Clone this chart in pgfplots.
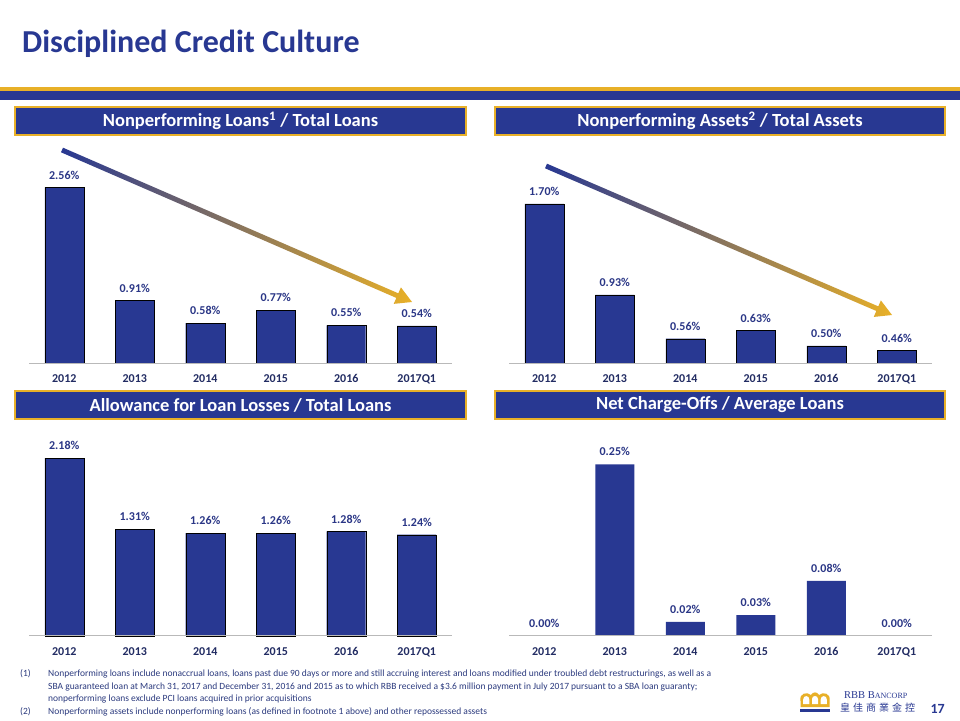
\documentclass[border=0pt]{standalone}
\usepackage{fontspec}
\setmainfont{Carlito}
\newfontfamily\cjk{Noto Sans CJK TC}
\newfontfamily\serif{Liberation Serif}
\usepackage{pgfplots}
\pgfplotsset{compat=1.18}
\usetikzlibrary{calc}
\definecolor{navy}{HTML}{283892}
\definecolor{gold}{HTML}{E8B028}
\definecolor{lbl}{HTML}{2A3686}
\definecolor{tickc}{HTML}{222C63}
\definecolor{foot}{HTML}{2B3A7E}

\pgfplotsset{bk/.style={
  ybar, bar width=39pt, bar shift=0pt, scale only axis, width=423pt,
  xmin=-0.5, xmax=5.5,
  axis x line*=bottom, axis y line=none, axis on top,
  x axis line style={draw=gray!55, line width=0.9pt, -},
  xtick={0,...,5}, xticklabels={2012,2013,2014,2015,2016,2017Q1},
  major tick length=0pt,
  xticklabel style={font=\bfseries\fontsize{12}{14}\selectfont, text=tickc, text height=8.5pt, text depth=0pt, yshift=-7.5pt},
  nodes near coords={\pgfmathprintnumber[fixed,fixed zerofill,precision=2,assume math mode=true]{\pgfplotspointmeta}\%},
  nodes near coords style={font=\bfseries\fontsize{12}{14}\selectfont, text=lbl, anchor=south, inner sep=0pt, yshift=8pt},
  anchor=south west,
  cycle list={{fill=navy, draw=none}},
}}

\newcommand\gradarrow[2]{%
 \coordinate (A) at #1; \coordinate (T) at #2;
 \coordinate (B) at ($(T)!16pt!(A)$);
 \shade[left color=navy, right color=gold]
   ($(A)!2.5pt!90:(T)$) -- ($(B)!2.5pt!-90:(A)$) -- ($(B)!9pt!-90:(A)$) -- (T) --
   ($(B)!9pt!90:(A)$) -- ($(B)!2.5pt!90:(A)$) -- ($(A)!2.5pt!-90:(T)$) -- cycle;}

\newcommand\hdr[3]{%
 \draw[gold, line width=1.2pt, fill=navy] #1 rectangle #2;
 \node[text=white, font=\bfseries\fontsize{18.5}{22}\selectfont] at ($#1!0.5!#2$) {#3};}

\begin{document}
\begin{tikzpicture}[x=1pt,y=1pt]
\path[use as bounding box, fill=white] (0,0) rectangle (960,720);

% title and bands
\node[anchor=base west, inner sep=0pt, text=navy, font=\bfseries\fontsize{32}{36}\selectfont] at (22,667) {Disciplined Credit Culture};
\fill[gold] (0,628.5) rectangle (960,633.3);
\fill[navy] (0,620) rectangle (960,628.5);

% header boxes
\hdr{(15,613)}{(466,585)}{Nonperforming Loans\textsuperscript{1} / Total Loans}
\hdr{(495,613)}{(945,585)}{Nonperforming Assets\textsuperscript{2} / Total Assets}
\hdr{(15,329)}{(466,301)}{Allowance for Loan Losses / Total Loans}
\hdr{(495,329)}{(945,301)}{Net Charge-Offs / Average Loans}

% top left
\begin{axis}[bk, at={(29pt,357pt)}, ymin=0, ymax=2.8, height=192.1pt, clip=false]
\addplot coordinates {(0,2.56) (1,0.91) (2,0.58) (3,0.77) (4,0.55) (5,0.54)};
\end{axis}
% top right
\begin{axis}[bk, at={(509pt,357pt)}, ymin=0.355, ymax=2.0, height=194.6pt, clip=true]
\addplot coordinates {(0,1.70) (1,0.93) (2,0.56) (3,0.63) (4,0.50) (5,0.46)};
\end{axis}
% bottom left
\begin{axis}[bk, at={(29pt,84.3pt)}, ymin=0, ymax=2.4, height=195.4pt, clip=false]
\addplot coordinates {(0,2.18) (1,1.31) (2,1.26) (3,1.26) (4,1.28) (5,1.24)};
\end{axis}
% bottom right
\begin{axis}[bk, at={(509pt,84.3pt)}, ymin=0, ymax=0.28, height=192pt, clip=false]
\addplot[fill=none, draw=none] coordinates {(0,0.00) (1,0.25) (2,0.02) (3,0.03) (4,0.08) (5,0.00)};
\addplot[fill=navy, draw=none, nodes near coords={}] coordinates {(1,0.25) (2,0.02) (3,0.03) (4,0.08)};
\end{axis}

% arrows
\gradarrow{(62,570)}{(412,418)}
\gradarrow{(546,554)}{(892,405)}

% footnotes
\begin{scope}[every node/.style={anchor=base west, inner sep=0pt, text=foot, font=\fontsize{9.5}{11}\selectfont}]
\node at (20,44) {(1)};
\node at (48,44) {Nonperforming loans include nonaccrual loans, loans past due 90 days or more and still accruing interest and loans modified under troubled debt restructurings, as well as a};
\node at (48,31) {SBA guaranteed loan at March 31, 2017 and December 31, 2016 and 2015 as to which RBB received a \$3.6 million payment in July 2017 pursuant to a SBA loan guaranty;};
\node at (48,19) {nonperforming loans exclude PCI loans acquired in prior acquisitions};
\node at (20,6) {(2)};
\node at (48,6) {Nonperforming assets include nonperforming loans (as defined in footnote 1 above) and other repossessed assets};
\end{scope}

% logo
\fill[gold] (800.5,13) -- (800.5,19) .. controls (799,27) and (807,28.5) .. (811,25) .. controls (813,28.5) and (817,28.5) .. (819,25) .. controls (823,28.5) and (831,27) .. (829.5,19) -- (829.5,13) -- cycle;
\fill[white] (803.2,16) -- (803.2,20.5) .. controls (803,25) and (809.5,25) .. (809.3,20.5) -- (809.3,16) -- cycle;
\fill[white] (812,16) -- (812,21) .. controls (812,25) and (818,25) .. (818,21) -- (818,16) -- cycle;
\fill[white] (820.7,16) -- (820.7,20.5) .. controls (820.5,25) and (827,25) .. (826.8,20.5) -- (826.8,16) -- cycle;
\fill[navy] (800,8.5) rectangle (830,11.5);
\node[anchor=base west, inner sep=0pt, text=navy, font=\serif\fontsize{10.5}{12}\selectfont] at (844,22) {RBB B{\fontsize{8}{10}\selectfont ANCORP}};
\node[anchor=base west, inner sep=0pt, text=navy, font=\cjk\fontsize{10}{12}\selectfont] at (840,9) {皇\hspace{3pt}佳\hspace{3pt}商\hspace{3pt}業\hspace{3pt}金\hspace{3pt}控};
\node[anchor=base east, inner sep=0pt, text=navy, font=\bfseries\fontsize{14}{16}\selectfont] at (945,7) {17};
\end{tikzpicture}
\end{document}
